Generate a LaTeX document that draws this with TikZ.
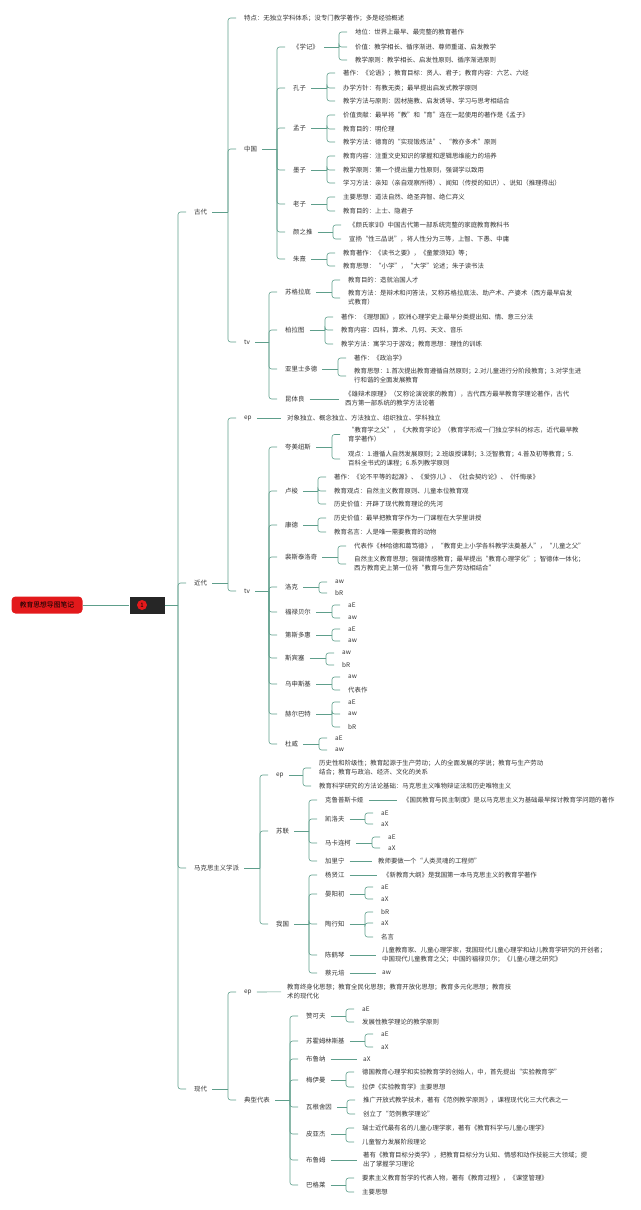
\documentclass[tikz,border=0pt]{standalone}
\usepackage{fontspec}
\setmainfont{Noto Sans CJK SC}
\usepackage{xcolor}
\usepackage{tikz}
\usetikzlibrary{positioning}
\definecolor{linkcol}{HTML}{5E9E8B}
\definecolor{rootfill}{HTML}{E3191B}
\definecolor{hubfill}{HTML}{262626}
\definecolor{textcol}{HTML}{333333}

\begin{document}
\begin{tikzpicture}[
  x=1pt, y=-1pt,
  every node/.style={anchor=west, inner sep=2pt, text=textcol, font=\fontsize{6.4}{9}\selectfont, align=left},
  rootbox/.style={anchor=center, fill=rootfill, rounded corners=4pt, minimum width=71pt, minimum height=17pt, text=black, font=\fontsize{6.8}{8}\selectfont},
  hubbox/.style={anchor=center, fill=hubfill, minimum width=35pt, minimum height=17pt},
  hubmark/.style={anchor=center, circle, fill=rootfill, inner sep=0pt, minimum size=10pt, text=black, font=\fontsize{6}{6}\selectfont},
  wire/.style={draw=linkcol, line width=0.6pt},
  link/.style={wire, shorten <=3pt},
  conn/.style={wire, rounded corners=2.5pt, shorten >=6pt},
  solo/.style={wire, shorten <=3pt, shorten >=4pt}
]
  \useasboundingbox (0,0) rectangle (640,1210);

  \node[rootbox] (root) at (47,605) {教育思想导图笔记};
  \node[hubbox] (hub) at (147,605) {};
  \node[hubmark] (hubmark) at (142,605) {1};
  \coordinate (btrunk) at (178,605);

  \node (gd) at (192,212) {古代};
  \node (jd) at (192,583) {近代};
  \node (mk) at (192,868) {马克思主义学派};
  \node (xd) at (192,1089) {现代};

  \coordinate (bgd) at (228,212);
  \node (gdtd) at (242,18) {特点：无独立学科体系；没专门教学著作；多是经验概述};
  \node (zg) at (242,149) {中国};
  \node (gdxf) at (242,342) {tv};

  \coordinate (bzg) at (277,149);
  \node (xj) at (291,47) {《学记》};
  \node (kz) at (291,88) {孔子};
  \node (mz) at (291,128) {孟子};
  \node (mozi) at (291,170) {墨子};
  \node (lz) at (291,204) {老子};
  \node (yzt) at (291,232) {颜之推};
  \node (zx) at (291,259) {朱熹};

  \coordinate (bxj) at (339,47);
  \node (xj1) at (353,32) {地位：世界上最早、最完整的教育著作};
  \node (xj2) at (353,47) {价值：教学相长、循序渐进、尊师重道、启发教学};
  \node (xj3) at (353,60) {教学原则：教学相长、启发性原则、循序渐进原则};

  \coordinate (bkz) at (327,88);
  \node (kz1) at (341,73) {著作：《论语》；教育目标：贤人、君子；教育内容：六艺、六经};
  \node (kz2) at (341,88) {办学方针：有教无类；最早提出启发式教学原则};
  \node (kz3) at (341,101) {教学方法与原则：因材施教、启发诱导、学习与思考相结合};

  \coordinate (bmz) at (327,128);
  \node (mz1) at (341,115) {价值贡献：最早将“教”和“育”连在一起使用的著作是《孟子》};
  \node (mz2) at (341,129) {教育目的：明伦理};
  \node (mz3) at (341,142) {教学方法：德育的“实现锻炼法”、“教亦多术”原则};

  \coordinate (bmozi) at (327,170);
  \node (mozi1) at (341,156) {教育内容：注重文史知识的掌握和逻辑思维能力的培养};
  \node (mozi2) at (341,170) {教学原则：第一个提出量力性原则，强调学以致用};
  \node (mozi3) at (341,183) {学习方法：亲知（亲自观察所得）、闻知（传授的知识）、说知（推理得出）};

  \coordinate (blz) at (327,204);
  \node (lz1) at (341,197) {主要思想：道法自然、绝圣弃智、绝仁弃义};
  \node (lz2) at (341,211) {教育目的：上士、隐君子};

  \coordinate (byzt) at (333,232);
  \node (yzt1) at (347,225) {《颜氏家训》中国古代第一部系统完整的家庭教育教科书};
  \node (yzt2) at (347,239) {宣扬“性三品说”，将人性分为三等，上智、下愚、中庸};

  \coordinate (bzx) at (327,259);
  \node (zx1) at (341,253) {教育著作：《读书之要》，《童蒙须知》等；};
  \node (zx2) at (341,266) {教育思想：“小学”，“大学”论述；朱子读书法};

  \coordinate (bgdxf) at (269,342);
  \node (sgld) at (283,292) {苏格拉底};
  \node (blt) at (283,330) {柏拉图};
  \node (ylsdd) at (283,369) {亚里士多德};
  \node (ktl) at (283,399) {昆体良};

  \coordinate (bsgld) at (332,292);
  \node (sgld1) at (346,280) {教育目的：造就治国人才};
  \node (sgld2) at (346,298) {教育方法：是辩术和问答法，又称苏格拉底法、助产术、产婆术（西方最早启发\\式教育）};

  \coordinate (bblt) at (325,330);
  \node (blt1) at (339,317) {著作：《理想国》，欧洲心理学史上最早分类提出知、情、意三分法};
  \node (blt2) at (339,330) {教育内容：四科，算术、几何、天文、音乐};
  \node (blt3) at (339,344) {教学方法：寓学习于游戏；教育思想：理性的训练};

  \coordinate (bylsdd) at (338,369);
  \node (ylsdd1) at (352,358) {著作：《政治学》};
  \node (ylsdd2) at (352,376) {教育思想：1.首次提出教育遵循自然原则；2.对儿童进行分阶段教育；3.对学生进\\行和谐的全面发展教育};

  \node (ktl1) at (343,399) {《雄辩术原理》（又称论演说家的教育），古代西方最早教育学理论著作，古代\\西方第一部系统的教学方法论著};

  \coordinate (bjd) at (228,583);
  \node (jdtd) at (242,418) {ep};
  \node (jdxf) at (242,591) {tv};
  \node (jdtd1) at (285,418) {对象独立、概念独立、方法独立、组织独立、学科独立};

  \coordinate (bjdxf) at (269,591);
  \node (kmns) at (283,447) {夸美纽斯};
  \node (ls) at (283,491) {卢梭};
  \node (kd) at (283,525) {康德};
  \node (psth) at (283,557) {裴斯泰洛奇};
  \node (lk) at (283,587) {洛克};
  \node (flbe) at (283,612) {福禄贝尔};
  \node (dsdh) at (283,635) {第斯多惠};
  \node (sbs) at (283,658) {斯宾塞};
  \node (ussj) at (283,684) {乌申斯基};
  \node (hebt) at (283,714) {赫尔巴特};
  \node (dw) at (283,744) {杜威};

  \coordinate (bkmns) at (332,447);
  \node (kmns1) at (346,434.5) {“教育学之父”，《大教育学论》（教育学形成一门独立学科的标志，近代最早教\\育学著作）};
  \node (kmns2) at (346,459) {观点：1.遵循人自然发展原则；2.班级授课制；3.泛智教育；4.普及初等教育；5.\\百科全书式的课程；6.系列教学原则};

  \coordinate (bls) at (318,491);
  \node (ls1) at (332,477) {著作：《论不平等的起源》、《爱弥儿》、《社会契约论》、《忏悔录》};
  \node (ls2) at (332,491) {教育观点：自然主义教育原则、儿童本位教育观};
  \node (ls3) at (332,504) {历史价值：开辟了现代教育理论的先河};

  \coordinate (bkd) at (318,525);
  \node (kd1) at (332,518) {历史价值：最早把教育学作为一门课程在大学里讲授};
  \node (kd2) at (332,532) {教育名言：人是唯一需要教育的动物};

  \coordinate (bpsth) at (338,557);
  \node (psth1) at (352,546) {代表作《林哈德和葛笃德》，“教育史上小学各科教学法奠基人”，“儿童之父”};
  \node (psth2) at (352,564) {自然主义教育思想；强调情感教育；最早提出“教育心理学化”；智德体一体化；\\西方教育史上第一位将“教育与生产劳动相结合”};

  \coordinate (blk) at (319,587);
  \node (lk1) at (333,582) {aw};
  \node (lk2) at (333,593) {bR};

  \coordinate (bflbe) at (332,612);
  \node (flbe1) at (346,605) {aE};
  \node (flbe2) at (346,618) {aw};

  \coordinate (bdsdh) at (332,635);
  \node (dsdh1) at (346,629) {aE};
  \node (dsdh2) at (346,641) {aw};

  \coordinate (bsbs) at (326,658);
  \node (sbs1) at (340,653) {aw};
  \node (sbs2) at (340,665) {bR};

  \coordinate (bussj) at (332,684);
  \node (ussj1) at (346,677) {aw};
  \node (ussj2) at (346,690) {代表作};

  \coordinate (bhebt) at (332,714);
  \node (hebt1) at (346,702) {aE};
  \node (hebt2) at (346,714) {aw};
  \node (hebt3) at (346,727) {bR};

  \coordinate (bdw) at (319,744);
  \node (dw1) at (333,738) {aE};
  \node (dw2) at (333,750) {aw};

  \coordinate (bmk) at (260,868);
  \node (mktd) at (274,775) {ep};
  \node (sl) at (274,831) {苏联};
  \node (wg) at (274,924) {我国};

  \coordinate (bmktd) at (303,775);
  \node (mktd1) at (317,768) {历史性和阶级性；教育起源于生产劳动；人的全面发展的学说；教育与生产劳动\\结合；教育与政治、经济、文化的关系};
  \node (mktd2) at (317,786) {教育科学研究的方法论基础：马克思主义唯物辩证法和历史唯物主义};

  \coordinate (bsl) at (309,831);
  \node (klpsky) at (323,800) {克鲁普斯卡娅};
  \node (klf) at (323,819) {凯洛夫};
  \node (mklk) at (323,843) {马卡连柯};
  \node (jln) at (323,861) {加里宁};
  \node (klpsky1) at (401,800) {《国民教育与民主制度》是以马克思主义为基础最早探讨教育学问题的著作};
  \coordinate (bklf) at (365,819);
  \node (klf1) at (379,813) {aE};
  \node (klf2) at (379,824) {aX};
  \coordinate (bmklk) at (372,843);
  \node (mklk1) at (386,837) {aE};
  \node (mklk2) at (386,848) {aX};
  \node (jln1) at (376,861) {教师要做一个“人类灵魂的工程师”};

  \coordinate (bwg) at (309,924);
  \node (yxj) at (323,875) {杨贤江};
  \node (yyc) at (323,894) {晏阳初};
  \node (txz) at (323,924) {陶行知};
  \node (chq) at (323,955) {陈鹤琴};
  \node (cyp) at (323,973) {蔡元培};
  \node (yxj1) at (381,875) {《新教育大纲》是我国第一本马克思主义的教育学著作};
  \coordinate (byyc) at (365,894);
  \node (yyc1) at (379,887) {aE};
  \node (yyc2) at (379,899) {aX};
  \coordinate (btxz) at (365,924);
  \node (txz1) at (379,912) {bR};
  \node (txz2) at (379,923) {aX};
  \node (txz3) at (379,937) {名言};
  \node (chq1) at (380,955) {儿童教育家、儿童心理学家，我国现代儿童心理学和幼儿教育学研究的开创者；\\中国现代儿童教育之父；中国的福禄贝尔；《儿童心理之研究》};
  \node (cyp1) at (380,973) {aw};

  \coordinate (bxd) at (228,1089);
  \node (xdtd) at (242,992) {ep};
  \node (dxdb) at (242,1100) {典型代表};
  \node (xdtd1) at (285,991.5) {教育终身化思想；教育全民化思想；教育开放化思想；教育多元化思想；教育技\\术的现代化};

  \coordinate (bdxdb) at (290,1100);
  \node (zkf) at (304,1016) {赞可夫};
  \node (shml) at (304,1041) {苏霍姆林斯基};
  \node (bln) at (304,1059) {布鲁纳};
  \node (mym) at (304,1080) {梅伊曼};
  \node (wgsy) at (304,1107) {瓦根舍因};
  \node (pyj) at (304,1134) {皮亚杰};
  \node (blm) at (304,1160) {布鲁姆};
  \node (bgl) at (304,1185) {巴格莱};

  \coordinate (bzkf) at (346,1016);
  \node (zkf1) at (360,1009) {aE};
  \node (zkf2) at (360,1022) {发展性教学理论的教学原则};
  \coordinate (bshml) at (365,1041);
  \node (shml1) at (379,1034) {aE};
  \node (shml2) at (379,1047) {aX};
  \node (bln1) at (361,1059) {aX};
  \coordinate (bmym) at (346,1080);
  \node (mym1) at (360,1072) {德国教育心理学和实验教育学的创始人，中，首先提出“实验教育学”};
  \node (mym2) at (360,1087) {拉伊《实验教育学》主要思想};
  \coordinate (bwgsy) at (347,1107);
  \node (wgsy1) at (361,1100) {推广开放式教学技术，著有《范例教学原则》，课程现代化三大代表之一};
  \node (wgsy2) at (361,1114) {创立了“范例教学理论”};
  \coordinate (bpyj) at (346,1134);
  \node (pyj1) at (360,1128) {瑞士近代最有名的儿童心理学家，著有《教育科学与儿童心理学》};
  \node (pyj2) at (360,1142) {儿童智力发展阶段理论};
  \node (blm1) at (361,1160) {著有《教育目标分类学》，把教育目标分为认知、情感和动作技能三大领域；提\\出了掌握学习理论};
  \coordinate (bbgl) at (346,1185);
  \node (bgl1) at (360,1178) {要素主义教育哲学的代表人物，著有《教育过程》，《课堂管理》};
  \node (bgl2) at (360,1192) {主要思想};

  \draw[wire] (root) -- (hub);
  \draw[wire] (hub) -- (btrunk);
  \draw[conn] (btrunk) |- (gd);
  \draw[conn] (btrunk) |- (jd);
  \draw[conn] (btrunk) |- (mk);
  \draw[conn] (btrunk) |- (xd);

  \draw[link] (gd) -- (bgd);
  \draw[conn] (bgd) |- (gdtd);
  \draw[conn] (bgd) |- (zg);
  \draw[conn] (bgd) |- (gdxf);
  \draw[link] (zg) -- (bzg);
  \draw[conn] (bzg) |- (xj);
  \draw[conn] (bzg) |- (kz);
  \draw[conn] (bzg) |- (mz);
  \draw[conn] (bzg) |- (mozi);
  \draw[conn] (bzg) |- (lz);
  \draw[conn] (bzg) |- (yzt);
  \draw[conn] (bzg) |- (zx);
  \draw[link] (xj) -- (bxj);
  \draw[conn] (bxj) |- (xj1);
  \draw[conn] (bxj) |- (xj2);
  \draw[conn] (bxj) |- (xj3);
  \draw[link] (kz) -- (bkz);
  \draw[conn] (bkz) |- (kz1);
  \draw[conn] (bkz) |- (kz2);
  \draw[conn] (bkz) |- (kz3);
  \draw[link] (mz) -- (bmz);
  \draw[conn] (bmz) |- (mz1);
  \draw[conn] (bmz) |- (mz2);
  \draw[conn] (bmz) |- (mz3);
  \draw[link] (mozi) -- (bmozi);
  \draw[conn] (bmozi) |- (mozi1);
  \draw[conn] (bmozi) |- (mozi2);
  \draw[conn] (bmozi) |- (mozi3);
  \draw[link] (lz) -- (blz);
  \draw[conn] (blz) |- (lz1);
  \draw[conn] (blz) |- (lz2);
  \draw[link] (yzt) -- (byzt);
  \draw[conn] (byzt) |- (yzt1);
  \draw[conn] (byzt) |- (yzt2);
  \draw[link] (zx) -- (bzx);
  \draw[conn] (bzx) |- (zx1);
  \draw[conn] (bzx) |- (zx2);
  \draw[link] (gdxf) -- (bgdxf);
  \draw[conn] (bgdxf) |- (sgld);
  \draw[conn] (bgdxf) |- (blt);
  \draw[conn] (bgdxf) |- (ylsdd);
  \draw[conn] (bgdxf) |- (ktl);
  \draw[link] (sgld) -- (bsgld);
  \draw[conn] (bsgld) |- (sgld1);
  \draw[conn] (bsgld) |- (sgld2);
  \draw[link] (blt) -- (bblt);
  \draw[conn] (bblt) |- (blt1);
  \draw[conn] (bblt) |- (blt2);
  \draw[conn] (bblt) |- (blt3);
  \draw[link] (ylsdd) -- (bylsdd);
  \draw[conn] (bylsdd) |- (ylsdd1);
  \draw[conn] (bylsdd) |- (ylsdd2);
  \draw[solo] (ktl) -- (ktl1);

  \draw[link] (jd) -- (bjd);
  \draw[conn] (bjd) |- (jdtd);
  \draw[conn] (bjd) |- (jdxf);
  \draw[solo] (jdtd) -- (jdtd1);
  \draw[link] (jdxf) -- (bjdxf);
  \draw[conn] (bjdxf) |- (kmns);
  \draw[conn] (bjdxf) |- (ls);
  \draw[conn] (bjdxf) |- (kd);
  \draw[conn] (bjdxf) |- (psth);
  \draw[conn] (bjdxf) |- (lk);
  \draw[conn] (bjdxf) |- (flbe);
  \draw[conn] (bjdxf) |- (dsdh);
  \draw[conn] (bjdxf) |- (sbs);
  \draw[conn] (bjdxf) |- (ussj);
  \draw[conn] (bjdxf) |- (hebt);
  \draw[conn] (bjdxf) |- (dw);
  \draw[link] (kmns) -- (bkmns);
  \draw[conn] (bkmns) |- (kmns1);
  \draw[conn] (bkmns) |- (kmns2);
  \draw[link] (ls) -- (bls);
  \draw[conn] (bls) |- (ls1);
  \draw[conn] (bls) |- (ls2);
  \draw[conn] (bls) |- (ls3);
  \draw[link] (kd) -- (bkd);
  \draw[conn] (bkd) |- (kd1);
  \draw[conn] (bkd) |- (kd2);
  \draw[link] (psth) -- (bpsth);
  \draw[conn] (bpsth) |- (psth1);
  \draw[conn] (bpsth) |- (psth2);
  \draw[link] (lk) -- (blk);
  \draw[conn] (blk) |- (lk1);
  \draw[conn] (blk) |- (lk2);
  \draw[link] (flbe) -- (bflbe);
  \draw[conn] (bflbe) |- (flbe1);
  \draw[conn] (bflbe) |- (flbe2);
  \draw[link] (dsdh) -- (bdsdh);
  \draw[conn] (bdsdh) |- (dsdh1);
  \draw[conn] (bdsdh) |- (dsdh2);
  \draw[link] (sbs) -- (bsbs);
  \draw[conn] (bsbs) |- (sbs1);
  \draw[conn] (bsbs) |- (sbs2);
  \draw[link] (ussj) -- (bussj);
  \draw[conn] (bussj) |- (ussj1);
  \draw[conn] (bussj) |- (ussj2);
  \draw[link] (hebt) -- (bhebt);
  \draw[conn] (bhebt) |- (hebt1);
  \draw[conn] (bhebt) |- (hebt2);
  \draw[conn] (bhebt) |- (hebt3);
  \draw[link] (dw) -- (bdw);
  \draw[conn] (bdw) |- (dw1);
  \draw[conn] (bdw) |- (dw2);

  \draw[link] (mk) -- (bmk);
  \draw[conn] (bmk) |- (mktd);
  \draw[conn] (bmk) |- (sl);
  \draw[conn] (bmk) |- (wg);
  \draw[link] (mktd) -- (bmktd);
  \draw[conn] (bmktd) |- (mktd1);
  \draw[conn] (bmktd) |- (mktd2);
  \draw[link] (sl) -- (bsl);
  \draw[conn] (bsl) |- (klpsky);
  \draw[conn] (bsl) |- (klf);
  \draw[conn] (bsl) |- (mklk);
  \draw[conn] (bsl) |- (jln);
  \draw[solo] (klpsky) -- (klpsky1);
  \draw[link] (klf) -- (bklf);
  \draw[conn] (bklf) |- (klf1);
  \draw[conn] (bklf) |- (klf2);
  \draw[link] (mklk) -- (bmklk);
  \draw[conn] (bmklk) |- (mklk1);
  \draw[conn] (bmklk) |- (mklk2);
  \draw[solo] (jln) -- (jln1);
  \draw[link] (wg) -- (bwg);
  \draw[conn] (bwg) |- (yxj);
  \draw[conn] (bwg) |- (yyc);
  \draw[conn] (bwg) |- (txz);
  \draw[conn] (bwg) |- (chq);
  \draw[conn] (bwg) |- (cyp);
  \draw[solo] (yxj) -- (yxj1);
  \draw[link] (yyc) -- (byyc);
  \draw[conn] (byyc) |- (yyc1);
  \draw[conn] (byyc) |- (yyc2);
  \draw[link] (txz) -- (btxz);
  \draw[conn] (btxz) |- (txz1);
  \draw[conn] (btxz) |- (txz2);
  \draw[conn] (btxz) |- (txz3);
  \draw[solo] (chq) -- (chq1);
  \draw[solo] (cyp) -- (cyp1);

  \draw[link] (xd) -- (bxd);
  \draw[conn] (bxd) |- (xdtd);
  \draw[conn] (bxd) |- (dxdb);
  \draw[solo] (xdtd) -- (xdtd1);
  \draw[link] (dxdb) -- (bdxdb);
  \draw[conn] (bdxdb) |- (zkf);
  \draw[conn] (bdxdb) |- (shml);
  \draw[conn] (bdxdb) |- (bln);
  \draw[conn] (bdxdb) |- (mym);
  \draw[conn] (bdxdb) |- (wgsy);
  \draw[conn] (bdxdb) |- (pyj);
  \draw[conn] (bdxdb) |- (blm);
  \draw[conn] (bdxdb) |- (bgl);
  \draw[link] (zkf) -- (bzkf);
  \draw[conn] (bzkf) |- (zkf1);
  \draw[conn] (bzkf) |- (zkf2);
  \draw[link] (shml) -- (bshml);
  \draw[conn] (bshml) |- (shml1);
  \draw[conn] (bshml) |- (shml2);
  \draw[solo] (bln) -- (bln1);
  \draw[link] (mym) -- (bmym);
  \draw[conn] (bmym) |- (mym1);
  \draw[conn] (bmym) |- (mym2);
  \draw[link] (wgsy) -- (bwgsy);
  \draw[conn] (bwgsy) |- (wgsy1);
  \draw[conn] (bwgsy) |- (wgsy2);
  \draw[link] (pyj) -- (bpyj);
  \draw[conn] (bpyj) |- (pyj1);
  \draw[conn] (bpyj) |- (pyj2);
  \draw[solo] (blm) -- (blm1);
  \draw[link] (bgl) -- (bbgl);
  \draw[conn] (bbgl) |- (bgl1);
  \draw[conn] (bbgl) |- (bgl2);
\end{tikzpicture}
\end{document}
